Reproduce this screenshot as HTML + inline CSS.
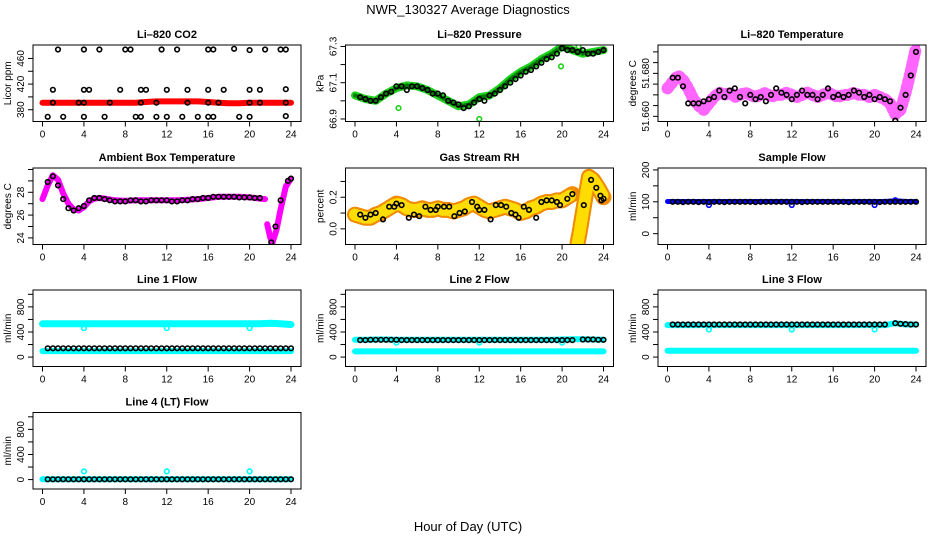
<!DOCTYPE html>
<html><head><meta charset="utf-8"><style>
html,body{margin:0;padding:0;background:#fff;}
svg{display:block;font-family:"Liberation Sans",Arial,sans-serif;}
</style></head><body>
<svg id="chart" width="936" height="540" viewBox="0 0 936 540" xmlns="http://www.w3.org/2000/svg">
<text x="468" y="14" font-size="13" text-anchor="middle">NWR_130327  Average Diagnostics</text>
<text x="468" y="531" font-size="13" text-anchor="middle">Hour of Day (UTC)</text>
</svg>
<script>
// ---- data ----
const xTicks = [0,4,8,12,16,20,24];
const hourly = [0,1,2,3,4,5,6,7,8,9,10,11,12,13,14,15,16,17,18,19,20,21,22,23,24];
const halfHours = [0.5,1,1.5,2,2.5,3,3.5,4,4.5,5,5.5,6,6.5,7,7.5,8,8.5,9,9.5,10,10.5,11,11.5,12,12.5,13,13.5,14,14.5,15,15.5,16,16.5,17,17.5,18,18.5,19,19.5,20,20.5,21,21.5,22,22.5,23,23.5,24];

// CO2
const co2Red = [391,391,391,391,391,391,391,391,391,391,392,393,393,393,393,393,392,391,390,390,391,391,391,391,391];
const co2BlackHours = [1.5,4,5.5,8,8.5,11.5,13,16,16.5,18.5,20,21.5,23,23.5, 1,4,4.5,7.5,9.5,10,12,14,16,17.5,20,21,23.5, 1,3.5,4,6.5,9.5,11,14,16,17,20,21,23.5, 0.5,2,4,6,9,9.5,11,12,13.5,15,16,16.5,19,20,23.5];
const co2BlackVals = [474,474,474,474,474,474,474,474,474,475,473,474,474,474, 411,411,411,411,411,411,411,411,411,411,411,411,412, 391,391,391,391,391,391,391,391,391,391,391,391, 369,369,369,369,369,369,369,369,369,369,369,369,369,369,370];

// Pressure
const presGreen = [67.03,67.01,67.0,67.04,67.07,67.085,67.08,67.06,67.03,67.0,66.97,66.98,67.02,67.03,67.07,67.12,67.16,67.19,67.23,67.26,67.30,67.28,67.26,67.27,67.28];
const presBlackHours = [0.5,1,1.5,2,2.5,3,3.5,4,4.5,5,5.5,6,6.5,7,7.5,8,8.5,9,9.5,10,10.5,11,11.5,12,12.5,13,13.5,14,14.5,15,15.5,16,16.5,17,17.5,18,18.5,19,19.5,20,20.5,21,21.5,22,22.5,23,23.5,24];
const presBlackVals = [67.02,67.01,67.0,67.0,67.02,67.04,67.05,67.08,67.08,67.06,67.08,67.08,67.07,67.06,67.04,67.04,67.03,67.0,66.99,66.98,66.96,66.97,66.99,67.01,67.0,67.03,67.04,67.06,67.08,67.10,67.12,67.14,67.16,67.17,67.19,67.21,67.23,67.24,67.26,67.29,67.28,67.28,67.27,67.28,67.26,67.26,67.27,67.28];
const presGreenOutHours = [4.2,12,19.9,21.6];
const presGreenOutVals = [66.96,66.9,67.19,67.3];

// Li-820 temperature
const tempMag = [51.673,51.676,51.679,51.677,51.673,51.668,51.665,51.663,51.666,51.669,51.671,51.670,51.671,51.669,51.670,51.671,51.670,51.669,51.670,51.671,51.669,51.670,51.670,51.671,51.670,51.669,51.670,51.671,51.670,51.669,51.670,51.671,51.670,51.669,51.670,51.670,51.671,51.670,51.670,51.669,51.670,51.669,51.668,51.666,51.661,51.663,51.671,51.681,51.692];
const tempMagHours = [0,0.5,1,1.5,2,2.5,3,3.5,4,4.5,5,5.5,6,6.5,7,7.5,8,8.5,9,9.5,10,10.5,11,11.5,12,12.5,13,13.5,14,14.5,15,15.5,16,16.5,17,17.5,18,18.5,19,19.5,20,20.5,21,21.5,22,22.5,23,23.5,24];
const tempBlackVals = [51.678,51.678,51.674,51.666,51.666,51.666,51.667,51.668,51.669,51.672,51.669,51.672,51.673,51.669,51.666,51.670,51.668,51.669,51.667,51.670,51.673,51.671,51.670,51.668,51.670,51.672,51.670,51.670,51.668,51.670,51.673,51.669,51.670,51.669,51.670,51.672,51.671,51.669,51.670,51.668,51.669,51.668,51.667,51.658,51.664,51.670,51.679,51.690];

// Ambient box temperature
const ambHours = [0,0.5,1,1.5,2,2.5,3,3.5,4,4.5,5,5.5,6,7,8,9,10,11,12,13,14,15,16,17,18,19,20,21,21.5,null,21.7,22,22.2,22.6,23,23.5,24];
const ambMag = [27.4,28.6,29.5,29.1,27.9,27.0,26.5,26.4,26.7,27.2,27.45,27.5,27.45,27.3,27.25,27.3,27.3,27.3,27.3,27.3,27.35,27.4,27.5,27.6,27.6,27.6,27.55,27.45,27.4,null,25.2,24.0,23.55,24.7,26.5,28.5,29.2];
const ambBlackHours = [0.5,1,1.5,2,2.5,3,3.5,4,4.5,5,5.5,6,6.5,7,7.5,8,8.5,9,9.5,10,10.5,11,11.5,12,12.5,13,13.5,14,14.5,15,15.5,16,16.5,17,17.5,18,18.5,19,19.5,20,20.5,21,22.1,22.5,23,23.7,24];
const ambBlackVals = [28.9,29.4,28.6,27.4,26.6,26.4,26.6,26.8,27.3,27.5,27.5,27.4,27.3,27.2,27.2,27.2,27.3,27.3,27.2,27.2,27.3,27.3,27.3,27.3,27.2,27.2,27.3,27.3,27.4,27.4,27.5,27.5,27.6,27.6,27.6,27.6,27.6,27.55,27.55,27.55,27.5,27.5,23.6,25.0,27.3,29.0,29.2];

// Gas stream RH
const rhHours = [0,0.5,1,1.5,2,2.5,3,3.5,4,4.5,5,5.5,6,6.5,7,7.5,8,8.5,9,9.5,10,10.5,11,11.5,12,12.5,13,13.5,14,14.5,15,15.5,16,16.5,17,17.5,18,18.5,19,19.5,20,20.5,21,null,21.5,21.7,22,22.3,22.6,23,23.5,24];
const rhOrange = [0.09,0.08,0.07,0.07,0.09,0.10,0.12,0.14,0.16,0.15,0.13,0.12,0.12,0.13,0.12,0.12,0.13,0.12,0.12,0.11,0.12,0.13,0.15,0.16,0.14,0.12,0.11,0.12,0.13,0.14,0.13,0.12,0.10,0.11,0.13,0.14,0.16,0.17,0.17,0.18,0.18,0.20,0.22,null,-0.09,-0.02,0.10,0.22,0.33,0.31,0.26,0.20];
const rhBlackHours = [0.5,1,1.5,2,2.7,3.3,3.8,4,4.5,5.2,5.7,6.2,6.8,7.3,7.8,8,8.6,9.1,9.6,10.1,10.6,11.3,11.8,12,12.5,13.1,13.6,14.1,14.6,15.1,15.5,15.8,16.3,16.8,17.5,18,18.5,19,19.5,19.8,20.5,21,22.1,22.8,23.3,23.7,23.8,24];
const rhBlackVals = [0.09,0.07,0.09,0.10,0.06,0.14,0.14,0.16,0.15,0.07,0.09,0.08,0.14,0.12,0.12,0.14,0.14,0.14,0.08,0.10,0.11,0.17,0.14,0.12,0.12,0.06,0.15,0.15,0.14,0.10,0.09,0.07,0.14,0.12,0.07,0.17,0.18,0.18,0.17,0.15,0.19,0.22,0.15,0.31,0.26,0.21,0.18,0.19];

// Sample flow
const sampleBlue = [101,101,101,101,101,101,101,101,101,101,101,101,101,101,101,101,101,101,101,101,101,101,103,101,101];
const sampleBlack = [100,100,99,100,100,99,100,99,100,100,99,100,100,100,100,100,99,100,100,100,100,100,100,100,100,99,100,100,100,100,100,100,100,100,99,100,100,100,100,100,99,100,100,100,100,100,100,100];
const sampleDipHours = [4,12,20,22];
const sampleDipVals = [90,90,90,105];

// Line flows
const line1CyanHigh = [530,530,530,530,530,530,530,530,530,530,530,530,530,530,530,530,530,530,530,530,530,530,540,530,520];
const line1CyanLow = [95,95,95,95,95,95,95,95,95,95,95,95,95,95,95,95,95,95,95,95,95,95,95,95,95];
const line1Black = [140,140,140,140,140,140,140,140,140,140,140,140,140,140,140,140,140,140,140,140,140,140,140,140,140,140,140,140,140,140,140,140,140,140,140,140,140,140,140,140,140,140,140,140,140,140,140,140];
const line1DipHours = [4,12,20];
const line1DipVals = [460,460,460];

const line2CyanHigh = [275,275,280,280,275,275,275,275,275,275,275,275,275,275,275,275,275,275,275,275,280,285,285,280,275];
const line2CyanLow = [90,90,90,90,90,90,90,90,90,90,90,90,90,90,90,90,90,90,90,90,90,90,90,90,90];
const line2Black = [270,270,275,275,275,275,275,275,270,270,270,270,270,270,270,270,270,270,270,270,270,270,270,270,270,270,270,270,270,270,270,270,270,270,270,270,270,270,270,270,270,270,null,280,280,280,275,275];
const line2DipHours = [4,12,20];
const line2DipVals = [230,230,230];

const line3CyanHigh = [510,510,510,510,510,510,510,510,510,510,510,510,510,510,510,510,510,510,510,510,510,510,540,520,520];
const line3CyanLow = [100,100,100,100,100,100,100,100,100,100,100,100,100,100,100,100,100,100,100,100,100,100,100,100,100];
const line3Black = [520,520,520,520,520,520,520,520,520,520,520,520,520,520,520,520,520,520,520,520,520,520,520,520,520,520,520,520,520,520,520,520,520,520,520,520,520,520,520,520,520,520,null,540,530,525,520,520];
const line3DipHours = [4,12,20];
const line3DipVals = [440,440,440];

const line4Cyan = [5,5,5,5,5,5,5,5,5,5,5,5,5,5,5,5,5,5,5,5,5,5,5,5,5];
const line4Black = [5,5,5,5,5,5,5,5,5,5,5,5,5,5,5,5,5,5,5,5,5,5,5,5,5,5,5,5,5,5,5,5,5,5,5,5,5,5,5,5,5,5,5,5,5,5,5,5];
const line4SpikeHours = [4,12,20];
const line4SpikeVals = [130,130,130];

const flowTicks = [0,200,400,600,800,1000];
const flowLabels = ["0","","400","","800",""];

// ---- drawing ----
const NS = 'http://www.w3.org/2000/svg';
const svg = document.getElementById('chart');
const colLeft = [33, 345.5, 658];
const rowTop = [45, 168, 290, 412.5];
const boxW = 268, boxH = 76.5;
let clipId = 0;

function mk(tag, attrs, parent){
  const e = document.createElementNS(NS, tag);
  for (const k in attrs) e.setAttribute(k, attrs[k]);
  (parent||svg).appendChild(e);
  return e;
}

function panel(cfg){
  const L = colLeft[cfg.col], T = rowTop[cfg.row], B = T + boxH, R = L + boxW;
  const g = mk('g', {});
  
  
  const xs = h => L + 9.5 + h * (248.5/24);
  const ys = v => B - (v - cfg.ylim[0]) / (cfg.ylim[1] - cfg.ylim[0]) * boxH;
  const id = 'clip' + (clipId++);
  const cp = mk('clipPath', {id: id}, g);
  mk('rect', {x: L, y: T, width: boxW, height: boxH}, cp);
  const plot = mk('g', {'clip-path': 'url(#' + id + ')'}, g);
  
  
  cfg.series.forEach(s => {
    if (s.type === 'band') {
      let segs = [], cur = [];
      for (let i = 0; i < s.v.length; i++) {
        if (s.v[i] === null || s.h[i] === null) { if (cur.length) segs.push(cur); cur = []; continue; }
        cur.push(xs(s.h[i]).toFixed(1) + ',' + ys(s.v[i]).toFixed(1));
      }
      if (cur.length) segs.push(cur);
      segs.forEach(sg => {
        const pl = mk('polyline', {points: sg.join(' '), fill: 'none', stroke: s.color, 'stroke-width': s.w, 'stroke-linejoin': 'round', 'stroke-linecap': 'round'}, plot);
        if (s.dash) pl.setAttribute('stroke-dasharray', s.dash);
        
        
      });
    } else {
      for (let i = 0; i < s.v.length; i++) {
        if (s.v[i] === null || s.h[i] === null) continue;
        const c = mk('circle', {cx: xs(s.h[i]).toFixed(1), cy: ys(s.v[i]).toFixed(1), r: s.r || 2.3, fill: 'none', stroke: s.color, 'stroke-width': s.sw || 1.6}, plot);
        
        
      }
    }
  });
  const box = mk('rect', {x: L, y: T, width: boxW, height: boxH, fill: 'none', stroke: '#000', 'stroke-width': 1}, g);
  
  
  const t = mk('text', {x: (L + R) / 2, y: T - 7, 'font-size': 11, 'font-weight': 'bold', 'text-anchor': 'middle'}, g);
  t.textContent = cfg.title;
  
  
  const xa = mk('g', {}, g);
  
  
  mk('line', {x1: xs(xTicks[0]), x2: xs(xTicks[xTicks.length-1]), y1: B, y2: B, stroke: '#000'}, xa);
  xTicks.forEach(h => {
    mk('line', {x1: xs(h), x2: xs(h), y1: B, y2: B + 5, stroke: '#000'}, xa);
    const lt = mk('text', {x: xs(h), y: B + 16, 'font-size': 10, 'text-anchor': 'middle'}, xa);
    lt.textContent = h;
  });
  const ya = mk('g', {}, g);
  
  
  mk('line', {x1: L, x2: L, y1: ys(cfg.yticks[0]), y2: ys(cfg.yticks[cfg.yticks.length-1]), stroke: '#000'}, ya);
  cfg.yticks.forEach((v, i) => {
    mk('line', {x1: L - 5, x2: L, y1: ys(v), y2: ys(v), stroke: '#000'}, ya);
    const lab = cfg.ylabels[i];
    if (lab) {
      const lt = mk('text', {x: L - 9, y: ys(v), 'font-size': 10, 'text-anchor': 'middle', transform: 'rotate(-90 ' + (L - 9) + ' ' + ys(v) + ')'}, ya);
      lt.textContent = lab;
    }
  });
  const yl = mk('text', {x: L - 22, y: (T + B) / 2, 'font-size': 10, 'text-anchor': 'middle', transform: 'rotate(-90 ' + (L - 22) + ' ' + (T + B) / 2 + ')'}, g);
  yl.textContent = cfg.ylab;
  
  
}

panel({name:'co2-panel', col:0, row:0, title:'Li\u2013820 CO2', ylab:'Licor ppm', ylim:[361.6,481], yticks:[380,400,420,440,460], ylabels:['380','','420','','460'], series:[
  {type:'band', name:'co2-red-series', h:hourly, v:co2Red, color:'#ff0000', w:6},
  {type:'pts', name:'co2-black-point', h:co2BlackHours, v:co2BlackVals, color:'#000'}
]});
panel({name:'pressure-panel', col:1, row:0, title:'Li\u2013820 Pressure', ylab:'kPa', ylim:[66.886,67.308], yticks:[66.9,67.0,67.1,67.2,67.3], ylabels:['66.9','','67.1','','67.3'], series:[
  {type:'band', name:'pressure-green-series', h:hourly, v:presGreen, color:'#1fd21f', w:8},
  {type:'band', name:'pressure-green-texture', h:hourly, v:presGreen, color:'#007a00', w:4, dash:'1 3'},
  {type:'pts', name:'pressure-green-outlier', h:presGreenOutHours, v:presGreenOutVals, color:'#1fd21f'},
  {type:'pts', name:'pressure-black-point', h:presBlackHours, v:presBlackVals, color:'#000'}
]});
panel({name:'licor-temperature-panel', col:2, row:0, title:'Li\u2013820 Temperature', ylab:'degrees C', ylim:[51.6576,51.6932], yticks:[51.660,51.665,51.670,51.675,51.680,51.685,51.690], ylabels:['51.660','','','','51.680','',''], series:[
  {type:'band', name:'temperature-magenta-series', h:tempMagHours, v:tempMag, color:'#ff00ff', w:8},
  {type:'band', name:'temperature-magenta-texture', h:tempMagHours, v:tempMag, color:'#ff66ff', w:12, dash:'2 4'},
  {type:'pts', name:'temperature-black-point', h:halfHours, v:tempBlackVals, color:'#000'}
]});
panel({name:'ambient-temperature-panel', col:0, row:1, title:'Ambient Box Temperature', ylab:'degrees C', ylim:[23.42,30.13], yticks:[24,25,26,27,28,29,30], ylabels:['24','','26','','28','',''], series:[
  {type:'band', name:'ambient-magenta-series', h:ambHours, v:ambMag, color:'#ff00ff', w:6},
  {type:'pts', name:'ambient-black-point', h:ambBlackHours, v:ambBlackVals, color:'#000'}
]});
panel({name:'gas-stream-rh-panel', col:1, row:1, title:'Gas Stream RH', ylab:'percent', ylim:[-0.099,0.385], yticks:[0,0.1,0.2,0.3], ylabels:['0.0','','0.2',''], series:[
  {type:'band', name:'rh-orange-series', h:rhHours, v:rhOrange, color:'#f08a00', w:16},
  {type:'band', name:'rh-yellow-texture', h:rhHours, v:rhOrange, color:'#ffdd00', w:12, dash:'1.2 3.5'},
  {type:'pts', name:'rh-black-point', h:rhBlackHours, v:rhBlackVals, color:'#000'}
]});
panel({name:'sample-flow-panel', col:2, row:1, title:'Sample Flow', ylab:'ml/min', ylim:[-34,206], yticks:[0,50,100,150,200], ylabels:['0','','100','','200'], series:[
  {type:'band', name:'sample-blue-series', h:hourly, v:sampleBlue, color:'#0000ff', w:5},
  {type:'pts', name:'sample-blue-dip', h:sampleDipHours, v:sampleDipVals, color:'#0000ff'},
  {type:'pts', name:'sample-black-point', h:halfHours, v:sampleBlack, color:'#000'}
]});
panel({name:'line1-flow-panel', col:0, row:2, title:'Line 1 Flow', ylab:'ml/min', ylim:[-150,1069], yticks:flowTicks, ylabels:flowLabels, series:[
  {type:'band', name:'line1-cyan-high', h:hourly, v:line1CyanHigh, color:'#00ffff', w:7},
  {type:'band', name:'line1-cyan-low', h:hourly, v:line1CyanLow, color:'#00ffff', w:6},
  {type:'pts', name:'line1-cyan-dip', h:line1DipHours, v:line1DipVals, color:'#00ffff'},
  {type:'pts', name:'line1-black-point', h:halfHours, v:line1Black, color:'#000'}
]});
panel({name:'line2-flow-panel', col:1, row:2, title:'Line 2 Flow', ylab:'ml/min', ylim:[-150,1069], yticks:flowTicks, ylabels:flowLabels, series:[
  {type:'band', name:'line2-cyan-high', h:hourly, v:line2CyanHigh, color:'#00ffff', w:6},
  {type:'band', name:'line2-cyan-low', h:hourly, v:line2CyanLow, color:'#00ffff', w:6},
  {type:'pts', name:'line2-cyan-dip', h:line2DipHours, v:line2DipVals, color:'#00ffff'},
  {type:'pts', name:'line2-black-point', h:halfHours, v:line2Black, color:'#000'}
]});
panel({name:'line3-flow-panel', col:2, row:2, title:'Line 3 Flow', ylab:'ml/min', ylim:[-150,1069], yticks:flowTicks, ylabels:flowLabels, series:[
  {type:'band', name:'line3-cyan-high', h:hourly, v:line3CyanHigh, color:'#00ffff', w:6},
  {type:'band', name:'line3-cyan-low', h:hourly, v:line3CyanLow, color:'#00ffff', w:6},
  {type:'pts', name:'line3-cyan-dip', h:line3DipHours, v:line3DipVals, color:'#00ffff'},
  {type:'pts', name:'line3-black-point', h:halfHours, v:line3Black, color:'#000'}
]});
panel({name:'line4-flow-panel', col:0, row:3, title:'Line 4 (LT) Flow', ylab:'ml/min', ylim:[-150,1069], yticks:flowTicks, ylabels:flowLabels, series:[
  {type:'band', name:'line4-cyan-series', h:hourly, v:line4Cyan, color:'#00ffff', w:6},
  {type:'pts', name:'line4-cyan-spike', h:line4SpikeHours, v:line4SpikeVals, color:'#00ffff'},
  {type:'pts', name:'line4-black-point', h:halfHours, v:line4Black, color:'#000'}
]});
</script>
</body></html>
